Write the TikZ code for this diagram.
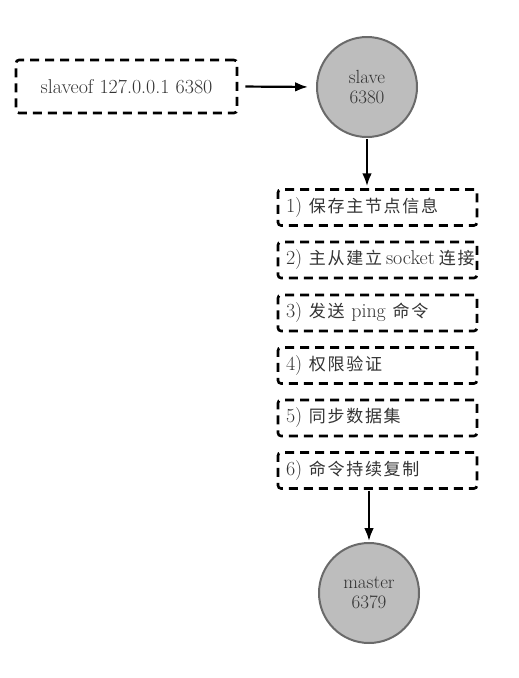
\documentclass[tikz,border=0pt]{standalone}
\usepackage{fontspec}
\usepackage{xcolor}
\newfontfamily\cjkfont[LetterSpace=10]{Noto Sans CJK SC}
\newcommand\zh[1]{{\fontsize{17}{19}\cjkfont #1}}
\usetikzlibrary{positioning, arrows.meta, shapes.geometric, calc}

\definecolor{nodegray}{HTML}{BDBDBD}
\definecolor{rimgray}{HTML}{6A6A6A}
\definecolor{textgray}{HTML}{333333}

\begin{document}
\begin{tikzpicture}[
    x=1pt, y=1pt,
    ->, >=Latex, line width=2.2pt,
    node_redis/.style={circle, draw=rimgray, line width=2pt, fill=nodegray, minimum size=100pt, align=center, text=textgray, font=\fontsize{19}{20}\selectfont},
    node_cmd/.style={rectangle, draw=black, dashed, dash pattern=on 9pt off 6pt, line width=2.6pt, rounded corners=3pt, text=textgray},
    node_stepbox/.style={node_cmd, minimum width=199pt, minimum height=36pt, inner xsep=8pt, text width=183pt, align=left, font=\fontsize{20}{21}\selectfont}
]
\useasboundingbox (0,0) rectangle (519,-678);

\node[node_cmd, minimum width=221pt, minimum height=53pt, font=\fontsize{20}{21}\selectfont] (cmd) at (126.5,-86.5) {slaveof 127.0.0.1 6380};
\node[node_redis] (slave) at (367,-87) {slave\\6380};

\node[node_stepbox] (s1) at (377.5,-207.5) {1) \zh{保存主节点信息}};
\node[node_stepbox] (s2) at (377.5,-260)   {\mbox{2) \zh{主从建立}\hspace{4pt}socket\hspace{4pt}\zh{连接}}};
\node[node_stepbox] (s3) at (377.5,-313)   {3) \zh{发送} ping \zh{命令}};
\node[node_stepbox] (s4) at (377.5,-365.5) {4) \zh{权限验证}};
\node[node_stepbox] (s5) at (377.5,-418)   {5) \zh{同步数据集}};
\node[node_stepbox] (s6) at (377.5,-470.5) {6) \zh{命令持续复制}};

\node[node_redis] (master) at (369,-593) {master\\6379};

\draw[shorten <=7pt, shorten >=8pt] (cmd.east) -- (slave.west);
\draw[shorten <=1pt, shorten >=2pt] (slave.south) -- (slave.south |- s1.north);
\draw[shorten <=1pt, shorten >=1pt] (master.north |- s6.south) -- (master.north);
\end{tikzpicture}
\end{document}
